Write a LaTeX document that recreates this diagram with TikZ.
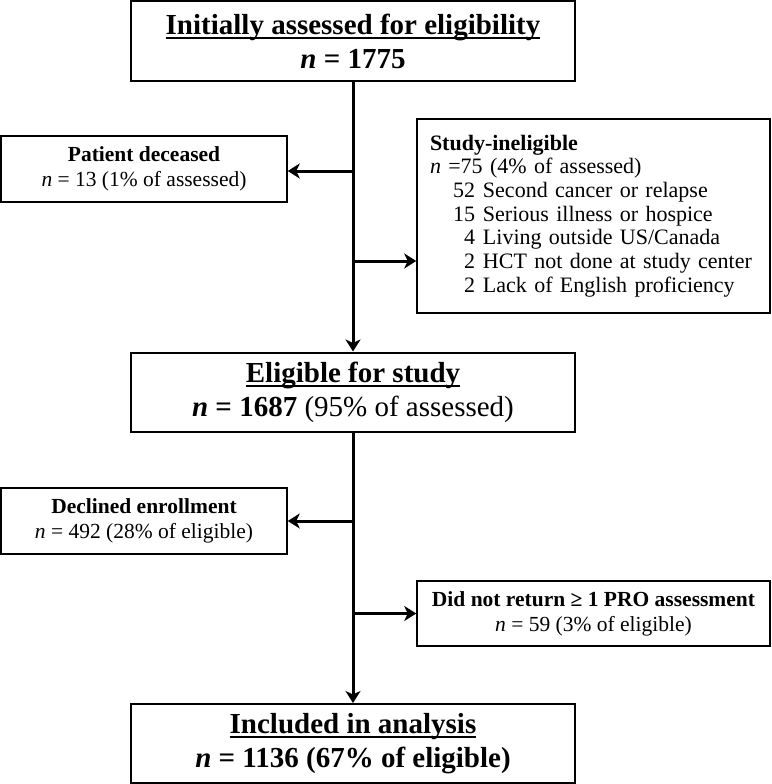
\documentclass[tikz,border=0pt]{standalone}
\usepackage{fontspec}
\setmainfont{Liberation Serif}
\usetikzlibrary{arrows.meta}
\newcommand\myul[1]{\setbox0\hbox{#1}\rlap{\rule[-4.5pt]{\wd0}{2pt}}\box0}
\begin{document}
\begin{tikzpicture}[x=1pt,y=-1pt,
  bigbox/.style={draw, line width=2pt, minimum width=444pt, minimum height=79pt, align=center, inner sep=0pt, font=\fontsize{29}{34}\selectfont},
  smallbox/.style={draw, line width=1.5pt, minimum width=286pt, minimum height=66pt, align=center, inner sep=0pt, font=\fontsize{21.5}{25}\selectfont},
  listbox/.style={draw, line width=1.5pt, minimum width=353pt, minimum height=194pt, text width=327pt, inner xsep=13pt, inner ysep=0pt, align=left, font=\fontsize{22}{23.7}\selectfont},
  conn/.style={line width=3pt},
  arr/.style={conn, -{Stealth[length=12pt,width=15pt,inset=3.5pt]}}]
\fill[white] (0,0) rectangle (771,784);
\useasboundingbox (0,0) rectangle (771,784);

\node[bigbox] (top) at (353,41) {\myul{\textbf{Initially assessed for eligibility}}\\ \textbf{\textit{n} = 1775}};
\node[smallbox] (dec) at (144,169) {\textbf{Patient deceased}\\ \textit{n} = 13 (1\% of assessed)};
\node[listbox] (inel) at (593.5,216) {\textbf{Study-ineligible}\\
\textit{n} =75 (4\% of assessed)\\
\hspace*{23pt}\makebox[22pt][r]{52}\hspace{8pt}Second cancer or relapse\\
\hspace*{23pt}\makebox[22pt][r]{15}\hspace{8pt}Serious illness or hospice\\
\hspace*{23pt}\makebox[22pt][r]{4}\hspace{8pt}Living outside US/Canada\\
\hspace*{23pt}\makebox[22pt][r]{2}\hspace{8pt}HCT not done at study center\\
\hspace*{23pt}\makebox[22pt][r]{2}\hspace{8pt}Lack of English proficiency};
\node[bigbox] (elig) at (353,392) {\myul{\textbf{Eligible for study}}\\ \textbf{\textit{n} = 1687} (95\% of assessed)};
\node[smallbox] (decl) at (144,521) {\textbf{Declined enrollment}\\ \textit{n} = 492 (28\% of eligible)};
\node[smallbox, minimum width=353pt, minimum height=65pt] (dnr) at (593.5,613.5) {\textbf{Did not return ≥ 1 PRO assessment}\\ \textit{n} = 59 (3\% of eligible)};
\node[bigbox] (incl) at (353,743.5) {\myul{\textbf{Included in analysis}}\\ \textbf{\textit{n} = 1136 (67\% of eligible)}};

\coordinate (j1) at (353,171);
\coordinate (j2) at (353,261);
\coordinate (j3) at (elig.south |- decl.east);
\coordinate (j4) at (elig.south |- dnr.west);

\draw[arr] (top.south) -- (elig.north);
\draw[arr] (j1) -- (j1 -| dec.east);
\draw[arr] (j2) -- (j2 -| inel.west);
\draw[arr] (elig.south) -- (incl.north);
\draw[arr] (j3) -- (decl.east);
\draw[arr] (j4) -- (dnr.west);
\end{tikzpicture}
\end{document}
